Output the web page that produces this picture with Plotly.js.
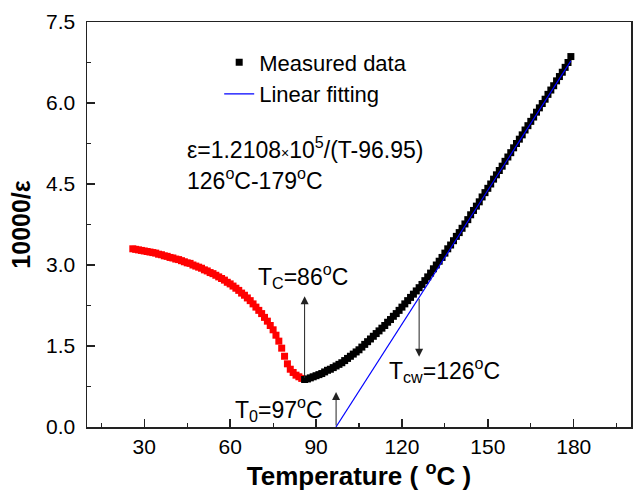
<!DOCTYPE html>
<html>
<head>
<meta charset="utf-8">
<script src="https://cdn.plot.ly/plotly-3.0.1.min.js"></script>
<style>
  html, body { margin: 0; padding: 0; background: #fff; }
  #chart { width: 634px; height: 495px; }
</style>
</head>
<body>
<div id="chart"></div>
<script>
// Ferroelectric side (below T_C): temperature (°C) and 10000/ε
const ferroTemp = [26, 27, 28, 29, 30, 31, 32, 33, 34, 35, 36, 37, 38, 39, 40, 41, 42, 43, 44, 45,
  46, 47, 48, 49, 50, 51, 52, 53, 54, 55, 56, 57, 58, 59, 60, 61, 62, 63, 64, 65,
  66, 67, 68, 69, 70, 71, 72, 73, 74, 75, 76, 77, 78, 79, 80, 81, 82, 83, 84, 85];
const ferroInv = [3.30, 3.29, 3.28, 3.27, 3.26, 3.25, 3.24, 3.23, 3.22, 3.20, 3.19, 3.17, 3.16, 3.14, 3.13, 3.11, 3.10, 3.08, 3.06, 3.04,
  3.03, 3.00, 2.98, 2.96, 2.94, 2.91, 2.89, 2.86, 2.84, 2.81, 2.78, 2.75, 2.72, 2.68, 2.65, 2.61, 2.57, 2.53, 2.48, 2.44,
  2.39, 2.34, 2.28, 2.22, 2.16, 2.10, 2.03, 1.96, 1.88, 1.80, 1.70, 1.59, 1.46, 1.31, 1.17, 1.07, 1.01, 0.96, 0.93, 0.90];

// Paraelectric side (from T_C upward)
const paraTemp = [86, 87, 88, 89, 90, 91, 92, 93, 94, 95, 96, 97, 98, 99, 100, 101, 102, 103, 104, 105,
  106, 107, 108, 109, 110, 111, 112, 113, 114, 115, 116, 117, 118, 119, 120, 121, 122, 123, 124, 125,
  126, 127, 128, 129, 130, 131, 132, 133, 134, 135, 136, 137, 138, 139, 140, 141, 142, 143, 144, 145,
  146, 147, 148, 149, 150, 151, 152, 153, 154, 155, 156, 157, 158, 159, 160, 161, 162, 163, 164, 165,
  166, 167, 168, 169, 170, 171, 172, 173, 174, 175, 176, 177, 178, 179];
const paraInv = [0.88, 0.89, 0.91, 0.93, 0.95, 0.97, 0.99, 1.02, 1.05, 1.07, 1.10, 1.13, 1.16, 1.19, 1.23, 1.27, 1.31, 1.35, 1.39, 1.43,
  1.48, 1.53, 1.58, 1.63, 1.68, 1.73, 1.78, 1.83, 1.88, 1.94, 1.99, 2.05, 2.10, 2.16, 2.22, 2.28, 2.34, 2.40, 2.46, 2.52,
  2.58, 2.64, 2.71, 2.78, 2.85, 2.93, 3.00, 3.07, 3.14, 3.22, 3.30, 3.37, 3.45, 3.53, 3.60, 3.68, 3.76, 3.84, 3.93, 4.01,
  4.09, 4.17, 4.26, 4.34, 4.42, 4.50, 4.59, 4.67, 4.75, 4.83, 4.92, 5.00, 5.08, 5.17, 5.25, 5.33, 5.41, 5.50, 5.58, 5.66,
  5.74, 5.83, 5.91, 5.99, 6.07, 6.16, 6.24, 6.32, 6.41, 6.49, 6.57, 6.66, 6.75, 6.86];

// Curie-Weiss linear fit end points
const fitTemp = [96.95, 179];
const fitInv = [0, 6.78];

// Characteristic temperatures: T_C, T_0, T_cw and arrow spans (10000/ε)
const markTemp = [86, 97, 126];
const arrowFrom = [0.88, 0, 2.40];
const arrowTo = [2.42, 0.65, 1.30];

// Tick labels
const xTicks = [30, 60, 90, 120, 150, 180];
const yTicks = [0, 1.5, 3.0, 4.5, 6.0, 7.5];

const FONT = 'Liberation Sans, Arial, sans-serif';

const traces = [
  {
    x: ferroTemp, y: ferroInv, type: 'scatter', mode: 'markers',
    marker: { symbol: 'square', size: 7, color: '#ff0000' },
    showlegend: false, hoverinfo: 'skip'
  },
  {
    x: paraTemp, y: paraInv, type: 'scatter', mode: 'markers', name: 'Measured data',
    marker: { symbol: 'square', size: 7, color: '#000000' }
  },
  {
    x: fitTemp, y: fitInv, type: 'scatter', mode: 'lines', name: 'Linear fitting',
    line: { color: '#0000ff', width: 1.2 }
  }
];

const arrows = markTemp.map((t, i) => ({
  x: t, y: arrowTo[i], ax: t, ay: arrowFrom[i],
  xref: 'x', yref: 'y', axref: 'x', ayref: 'y',
  text: '', showarrow: true, arrowhead: 2, arrowsize: 1.6, arrowwidth: 1,
  arrowcolor: '#222', standoff: 0, startstandoff: 0
}));

const textFont = { family: FONT, size: 23, color: '#000' };
const labels = [
  { x: 44.3, y: 5.17, text: 'ε=1.2108<span style="font-size:14px">×</span>10<sup>5</sup>/(T-96.95)' },
  { x: 44.3, y: 4.60, text: '126<sup>o</sup>C-179<sup>o</sup>C' },
  { x: 69.1, y: 2.80, text: 'T<sub>C</sub>=86<sup>o</sup>C' },
  { x: 61.0, y: 0.34, text: 'T<sub>0</sub>=97<sup>o</sup>C' },
  { x: 114.7, y: 1.06, text: 'T<sub>cw</sub>=126<sup>o</sup>C' }
].map(a => Object.assign({
  xref: 'x', yref: 'y', xanchor: 'left', yanchor: 'middle',
  showarrow: false, font: textFont
}, a));

const axisCommon = {
  showline: true, linecolor: '#222', linewidth: 1.5, mirror: true,
  ticks: 'inside', ticklen: 8, tickwidth: 1.5, tickcolor: '#222',
  showgrid: false, zeroline: false,
  tickfont: { family: FONT, size: 21, color: '#000' }
};

const layout = {
  width: 634, height: 495,
  margin: { l: 87, r: 3, t: 22, b: 68 },
  paper_bgcolor: '#fff', plot_bgcolor: '#fff',
  font: { family: FONT, color: '#000' },
  xaxis: Object.assign({}, axisCommon, {
    range: [10, 200], tickvals: xTicks,
    minor: { dtick: 15, tick0: 0, ticks: 'inside', ticklen: 4, tickwidth: 1.2, tickcolor: '#222' },
    title: { text: '<b>Temperature ( <sup>o</sup>C )</b>', font: { family: FONT, size: 26, color: '#000' }, standoff: 5 }
  }),
  yaxis: Object.assign({}, axisCommon, {
    range: [0, 7.5], tickvals: yTicks, tickformat: '.1f', ticklabelstandoff: 6,
    minor: { dtick: 0.75, tick0: 0, ticks: 'inside', ticklen: 4, tickwidth: 1.2, tickcolor: '#222' },
    title: { text: '<b>10000/ε</b>', font: { family: FONT, size: 25, color: '#000' }, standoff: 8 }
  }),
  showlegend: true,
  legend: {
    x: 0.243, y: 0.952, xanchor: 'left', yanchor: 'top',
    bgcolor: 'rgba(0,0,0,0)', borderwidth: 0,
    font: { family: FONT, size: 22, color: '#000' },
    tracegroupgap: 0
  },
  annotations: arrows.concat(labels)
};

Plotly.newPlot('chart', traces, layout, { displayModeBar: false, staticPlot: true });
</script>
</body>
</html>
